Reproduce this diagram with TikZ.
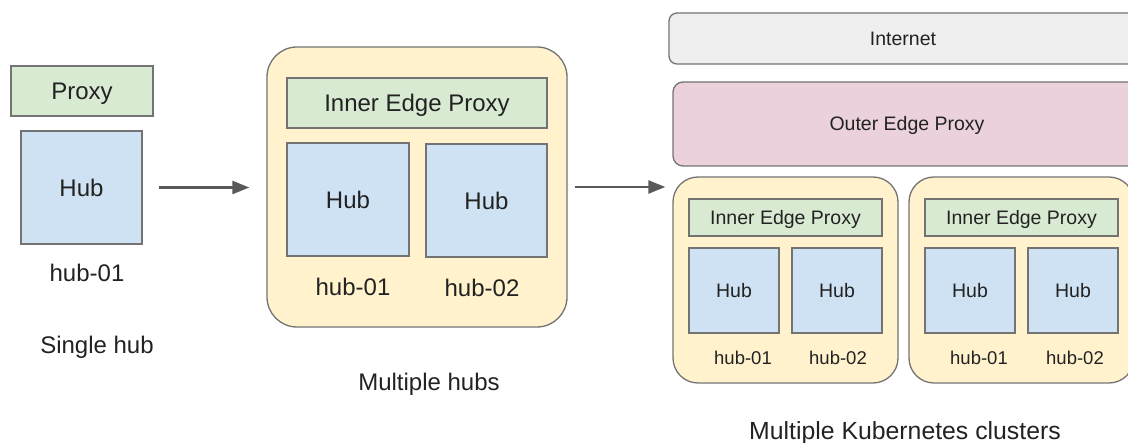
\documentclass[tikz,border=0pt]{standalone}
\usepackage{fontspec}
\setmainfont{Liberation Sans}
\usetikzlibrary{arrows.meta}
\definecolor{gfill}{HTML}{D9EAD3}
\definecolor{bfill}{HTML}{CFE2F3}
\definecolor{yfill}{HTML}{FFF2CC}
\definecolor{pfill}{HTML}{EAD1DC}
\definecolor{ifill}{HTML}{EFEFEF}
\definecolor{bordc}{HTML}{737373}
\definecolor{txt}{HTML}{222222}
\definecolor{arrc}{HTML}{595959}
\tikzset{
  box/.style={draw=bordc, line width=1.3pt, inner sep=0pt, text=txt},
  proxybox/.style={box, fill=gfill},
  hubbox/.style={box, fill=bfill},
  container/.style={box, fill=yfill, rounded corners=#1},
  lbl/.style={text=txt, inner sep=0pt},
  fbig/.style={font=\fontsize{24}{28}\selectfont, text height=17.3pt, text depth=0pt},
  fsm/.style={font=\fontsize{19.5}{23}\selectfont, text height=14pt, text depth=0pt},
  fxs/.style={font=\fontsize{18.5}{22}\selectfont, text height=13.3pt, text depth=0pt},
  fkube/.style={font=\fontsize{24.8}{29}\selectfont, text height=17.9pt, text depth=0pt},
  flow/.style={draw=arrc, line width=2.3pt, -{Triangle[length=17pt,width=13pt]}}
}
\begin{document}
\begin{tikzpicture}[x=1pt,y=-1pt]
\useasboundingbox (0,0) rectangle (1128,443);
% ---------- Single hub ----------
\node[proxybox, fbig, minimum width=142pt, minimum height=50pt] (p0) at (82,91) {Proxy};
\node[hubbox, fbig, minimum width=121pt, minimum height=113pt] (h0) at (81.5,187.5) {Hub};
\node[lbl, fbig] (h0l) at (87,273) {hub-01};
\node[lbl, fbig] (t0) at (97,345) {Single hub};
% ---------- Multiple hubs ----------
\node[container=30pt, minimum width=300pt, minimum height=280pt] (mid) at (417,187) {};
\node[proxybox, fbig, minimum width=260pt, minimum height=50pt] (p1) at (417,103) {Inner Edge Proxy};
\node[hubbox, fbig, minimum width=122pt, minimum height=113pt] (h1) at (348,199.5) {Hub};
\node[hubbox, fbig, minimum width=121pt, minimum height=113pt] (h2) at (486.5,200.5) {Hub};
\node[lbl, fbig] (h1l) at (353,287) {hub-01};
\node[lbl, fbig] (h2l) at (482,288) {hub-02};
\node[lbl, fbig] (t1) at (429,382) {Multiple hubs};
% ---------- Multiple clusters ----------
\node[box, fill=ifill, rounded corners=8pt, fsm, minimum width=468pt, minimum height=51pt] (inet) at (903,38.5) {Internet};
\node[box, fill=pfill, rounded corners=10pt, fsm, minimum width=468pt, minimum height=84pt] (oep) at (907,124) {Outer Edge Proxy};
\node[container=25pt, minimum width=225pt, minimum height=206pt] (c1) at (785.5,280) {};
\node[container=25pt, minimum width=225pt, minimum height=206pt] (c2) at (1021.5,280) {};
\node[proxybox, fsm, minimum width=193pt, minimum height=37pt] (p2) at (785.5,217.5) {Inner Edge Proxy};
\node[proxybox, fsm, minimum width=193pt, minimum height=37pt] (p3) at (1021.5,217.5) {Inner Edge Proxy};
\node[hubbox, fsm, minimum width=90pt, minimum height=85pt] (ha) at (734,290.5) {Hub};
\node[hubbox, fsm, minimum width=90pt, minimum height=85pt] (hb) at (837,290.5) {Hub};
\node[hubbox, fsm, minimum width=90pt, minimum height=85pt] (hc) at (970,290.5) {Hub};
\node[hubbox, fsm, minimum width=90pt, minimum height=85pt] (hd) at (1073,290.5) {Hub};
\node[lbl, fxs] (hal) at (743,358) {hub-01};
\node[lbl, fxs] (hbl) at (838,358) {hub-02};
\node[lbl, fxs] (hcl) at (979,358) {hub-01};
\node[lbl, fxs] (hdl) at (1075,358) {hub-02};
\node[lbl, fkube] (t2) at (905,431) {Multiple Kubernetes clusters};
% ---------- arrows ----------
\draw[flow, shorten <=16pt, shorten >=17pt] (h0.east) -- (h0.east -| mid.west);
\draw[flow, shorten <=7pt, shorten >=7pt] (mid.east) -- (mid.east -| c1.west);
\end{tikzpicture}
\end{document}
